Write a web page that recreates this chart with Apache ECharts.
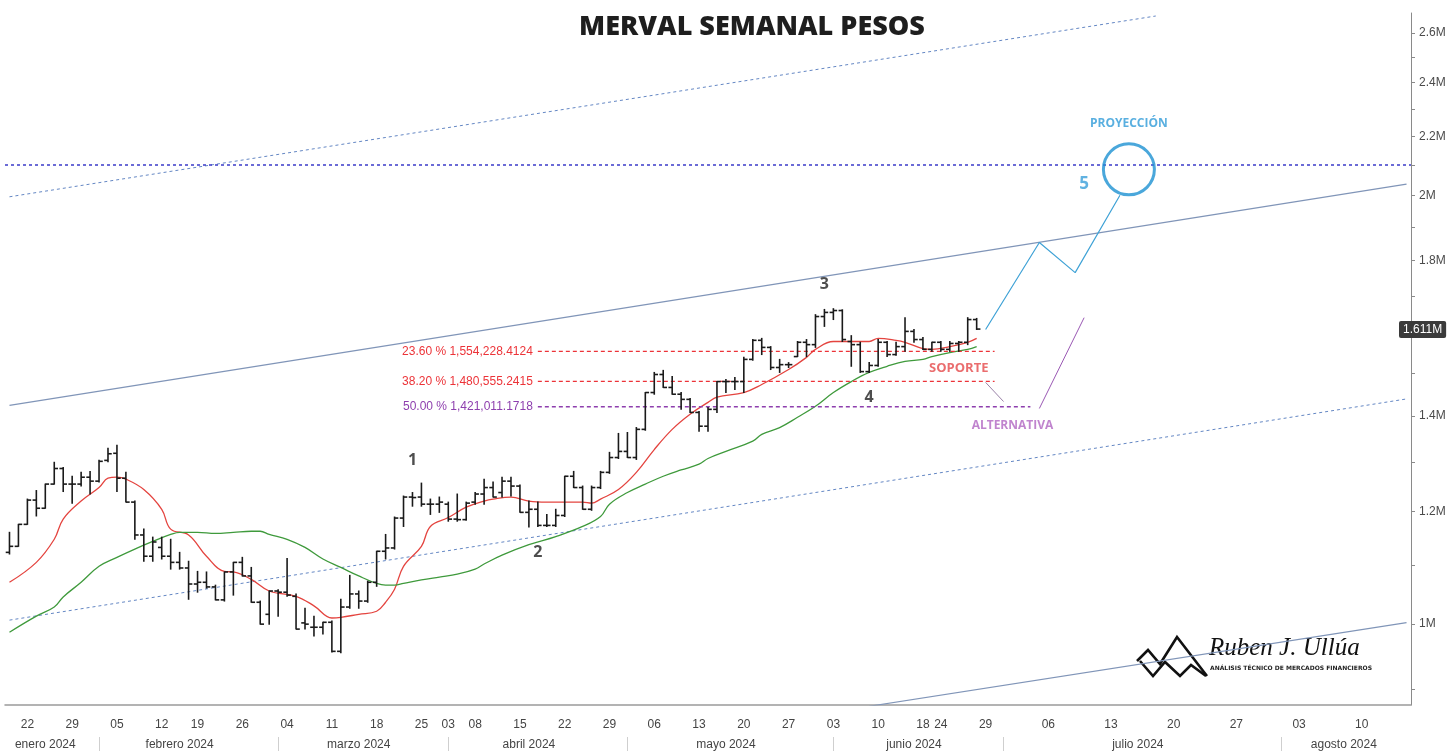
<!DOCTYPE html>
<html>
<head>
<meta charset="utf-8">
<title>MERVAL semanal pesos</title>
<script src="https://cdn.jsdelivr.net/npm/echarts@6/dist/echarts.min.js"></script>
<style>
  html, body { margin: 0; padding: 0; background: #fff; }
  #chart { width: 1450px; height: 751px; }
</style>
</head>
<body>
<div id="chart"></div>
<script>
// barras diarias, en millones de pesos
const open = [1.123,1.134,1.175,1.222,1.206,1.254,1.286,1.254,1.254,1.268,
  1.260,1.303,1.318,1.266,1.218,1.155,1.116,1.132,1.116,1.105,
  1.095,1.067,1.070,1.062,1.040,1.088,1.105,1.081,1.036,1.016,
  1.055,1.053,1.046,1.002,0.995,0.995,1.003,0.957,1.028,1.050,
  1.038,1.070,1.125,1.131,1.187,1.228,1.228,1.214,1.214,1.214,
  1.185,1.184,1.218,1.234,1.247,1.237,1.260,1.250,1.198,1.204,
  1.173,1.173,1.192,1.270,1.247,1.204,1.247,1.278,1.309,1.322,
  1.309,1.370,1.454,1.497,1.466,1.450,1.438,1.408,1.377,1.415,
  1.480,1.480,1.480,1.534,1.582,1.564,1.514,1.521,1.541,1.577,
  1.571,1.644,1.655,1.660,1.579,1.571,1.504,1.519,1.577,1.546,
  1.566,1.605,1.584,1.559,1.577,1.559,1.574,1.577,1.636];
const high = [1.160,1.175,1.224,1.241,1.254,1.299,1.288,1.270,1.278,1.280,
  1.303,1.329,1.335,1.278,1.220,1.166,1.151,1.151,1.147,1.123,
  1.107,1.089,1.088,1.065,1.088,1.105,1.114,1.096,1.038,1.055,
  1.057,1.112,1.050,1.026,1.013,1.003,1.005,1.041,1.082,1.055,
  1.072,1.125,1.156,1.189,1.230,1.237,1.256,1.224,1.228,1.218,
  1.234,1.218,1.237,1.264,1.258,1.268,1.268,1.252,1.220,1.218,
  1.194,1.204,1.270,1.280,1.250,1.250,1.280,1.320,1.361,1.363,
  1.374,1.454,1.502,1.507,1.492,1.454,1.440,1.410,1.419,1.480,
  1.485,1.490,1.539,1.584,1.587,1.566,1.534,1.526,1.579,1.584,
  1.649,1.663,1.665,1.662,1.594,1.577,1.526,1.584,1.579,1.577,
  1.641,1.610,1.589,1.577,1.579,1.579,1.579,1.641,1.639];
const low = [1.120,1.134,1.175,1.191,1.206,1.254,1.239,1.216,1.250,1.234,
  1.258,1.300,1.239,1.218,1.147,1.107,1.107,1.111,1.093,1.093,
  1.041,1.053,1.060,1.040,1.038,1.048,1.081,1.036,1.000,1.000,
  1.013,1.046,0.992,0.992,0.981,0.984,0.956,0.955,1.026,1.026,
  1.036,1.063,1.111,1.129,1.171,1.210,1.210,1.194,1.198,1.181,
  1.181,1.183,1.214,1.214,1.228,1.228,1.230,1.198,1.170,1.171,
  1.171,1.171,1.190,1.247,1.204,1.202,1.245,1.276,1.307,1.309,
  1.305,1.368,1.450,1.466,1.450,1.415,1.408,1.366,1.366,1.408,
  1.454,1.461,1.454,1.532,1.546,1.509,1.502,1.514,1.541,1.541,
  1.564,1.618,1.636,1.579,1.517,1.502,1.502,1.517,1.541,1.544,
  1.554,1.577,1.559,1.554,1.554,1.554,1.554,1.571,1.610];
const close = [1.134,1.175,1.222,1.206,1.254,1.286,1.254,1.254,1.268,1.260,
  1.301,1.317,1.266,1.218,1.155,1.116,1.142,1.116,1.105,1.095,
  1.067,1.070,1.062,1.040,1.088,1.105,1.081,1.036,1.000,1.055,
  1.053,1.048,0.992,1.000,0.995,1.003,0.957,1.028,1.050,1.038,
  1.070,1.125,1.131,1.187,1.228,1.227,1.214,1.214,1.218,1.185,
  1.184,1.216,1.234,1.247,1.228,1.260,1.250,1.198,1.204,1.173,
  1.173,1.192,1.270,1.247,1.204,1.247,1.278,1.309,1.322,1.309,
  1.370,1.454,1.497,1.466,1.450,1.438,1.408,1.377,1.415,1.480,
  1.480,1.480,1.534,1.582,1.564,1.514,1.521,1.521,1.577,1.571,
  1.644,1.655,1.660,1.584,1.571,1.504,1.519,1.577,1.546,1.566,
  1.605,1.584,1.559,1.577,1.559,1.574,1.577,1.636,1.611];

// medias moviles: [indice de barra, valor]
const redMa = [[0,1.070],[2.7,1.105],[4.5,1.147],[6.4,1.185],[8.2,1.220],[10.1,1.247],[11.2,1.266],
  [12.1,1.268],[13.1,1.264],[14.6,1.243],[16.5,1.204],[18.2,1.166],[20.0,1.155],[22.0,1.116],
  [23.8,1.089],[25.0,1.088],[27.2,1.075],[29.4,1.055],[32.1,1.046],[33.9,1.030],[36.1,1.010],
  [37.2,1.011],[38.8,1.016],[40.5,1.021],[41.7,1.036],[42.8,1.058],[43.9,1.098],[45.5,1.134],
  [47.2,1.171],[49.1,1.188],[51.0,1.208],[52.8,1.220],[54.4,1.224],[56.2,1.228],[58.0,1.220],
  [59.9,1.218],[61.7,1.218],[63.6,1.218],[65.1,1.216],[66.2,1.224],[68.1,1.243],[70.0,1.278],
  [71.8,1.326],[73.7,1.370],[75.5,1.404],[77.8,1.431],[79.2,1.443],[81.8,1.454],[84.0,1.473],
  [86.7,1.509],[88.9,1.539],[90.4,1.559],[92.3,1.579],[94.1,1.579],[95.9,1.579],[97.1,1.587],
  [99.0,1.582],[100.4,1.577],[101.9,1.561],[103.4,1.559],[105.2,1.566],[106.8,1.577],[108,1.587]];
const greenMa = [[0,0.987],[2.7,1.013],[4.5,1.028],[6.4,1.045],[8.2,1.070],[10.1,1.098],[12.0,1.114],
  [13.8,1.129],[15.7,1.143],[17.6,1.156],[19.4,1.160],[21.3,1.160],[23.2,1.158],[25.0,1.160],
  [26.6,1.162],[27.6,1.162],[29.4,1.156],[31.3,1.147],[33.2,1.132],[35.0,1.111],[36.9,1.096],
  [38.8,1.081],[40.5,1.068],[42.4,1.065],[43.2,1.065],[44.3,1.068],[46.1,1.074],[48.0,1.079],
  [49.9,1.084],[51.7,1.093],[53.4,1.102],[55.3,1.118],[58.0,1.137],[61.1,1.152],[63.6,1.171],
  [65.5,1.190],[67.3,1.214],[69.2,1.237],[71.1,1.254],[72.9,1.270],[74.8,1.283],[76.7,1.295],
  [78.4,1.307],[80.1,1.322],[82.6,1.344],[84.3,1.359],[85.9,1.374],[88.1,1.397],[90.0,1.422],
  [91.8,1.454],[94.1,1.480],[96.0,1.502],[97.8,1.517],[99.6,1.529],[101.5,1.534],[103.4,1.541],
  [105.2,1.551],[106.8,1.559],[108,1.566]];

// canal, proyeccion y alternativa: [indice, valor]
const upperChannel = [[0, 1.995], [128, 2.672]];
const midChannel = [[0, 1.424], [156, 2.036]];
const lowerChannel = [[0, 1.0065], [156, 1.439]];
const baseChannel = [[96, 0.8757], [156, 1.0026]];
const projection = [[109.2, 1.610], [114.9, 1.853], [118.8, 1.765], [123.5, 2.000]];
const altDown = [[109.2, 1.478], [110.8, 1.433]];
const altUp = [[114.6, 1.417], [120.0, 1.641]];
const target = 2.1;
const targetCircle = [125.1, 2.0856];

const fibStart = 59;
const fibNames = ['23.60 %', '38.20 %', '50.00 %'];
const fibValues = [1554228.4124, 1480555.2415, 1421011.1718];
const fibEnds = [110, 110, 114];

const notes = [
  ['1', 45, 1.303, 'wave'], ['2', 59.3, 1.123, 'wave'], ['3', 90.5, 1.7315, 'wave'],
  ['4', 96.4, 1.4425, 'wave'], ['5', 120.2, 2.0375, 'five'],
  ['PROYECCIÓN', 125.3, 2.2445, 'proj'], ['SOPORTE', 105.6, 1.5116, 'sup'],
  ['ALTERNATIVA', 112.3, 1.3788, 'alt']
];

// fechas
const holidays = ['2024-02-13','2024-03-28','2024-03-29','2024-04-01','2024-04-02',
  '2024-06-17','2024-06-20','2024-06-21'];
const dayLabels = ['2024-01-22','2024-01-29','2024-02-05','2024-02-12','2024-02-19','2024-02-26',
  '2024-03-04','2024-03-11','2024-03-18','2024-03-25','2024-04-03','2024-04-08','2024-04-15',
  '2024-04-22','2024-04-29','2024-05-06','2024-05-13','2024-05-20','2024-05-27','2024-06-03',
  '2024-06-10','2024-06-18','2024-06-24','2024-06-29','2024-07-06','2024-07-13','2024-07-20',
  '2024-07-27','2024-08-03','2024-08-10'];
const monthNames = ['enero','febrero','marzo','abril','mayo','junio','julio','agosto'];
const yTicks = [1, 1.2, 1.4, 1.6, 1.8, 2, 2.2, 2.4, 2.6];
const yMinorTicks = [0.9, 1, 1.1, 1.2, 1.3, 1.4, 1.5, 1.6, 1.7, 1.8, 1.9, 2, 2.1, 2.2, 2.3, 2.4, 2.5, 2.6];

const categories = [];
const lastBar = Date.UTC(2024, 5, 28);
for (let t = Date.UTC(2024, 0, 18); t <= Date.UTC(2024, 7, 15); t += 86400000) {
  const d = new Date(t);
  const iso = d.toISOString().slice(0, 10);
  const wd = d.getUTCDay();
  if (t <= lastBar && (wd === 0 || wd === 6 || holidays.includes(iso))) continue;
  categories.push(iso);
}
const daySet = new Set(dayLabels);
const monthOf = s => +s.slice(5, 7);
const monthStarts = new Set();
const monthMids = new Set();
let first = 0;
for (let i = 1; i <= categories.length; i++) {
  if (i === categories.length || monthOf(categories[i]) !== monthOf(categories[i - 1])) {
    monthMids.add(Math.floor((first + i - 1) / 2));
    if (i < categories.length) monthStarts.add(i);
    first = i;
  }
}

const ohlcData = close.map((c, i) => [i, open[i], c, low[i], high[i]]);
const lastClose = close[close.length - 1];

function renderOhlc(params, api) {
  const x = api.value(0);
  const o = api.coord([x, api.value(1)]);
  const c = api.coord([x, api.value(2)]);
  const l = api.coord([x, api.value(3)]);
  const h = api.coord([x, api.value(4)]);
  const half = api.size([1, 1], [x, 1])[0] * 0.42;
  const style = { stroke: '#1a1a1a', lineWidth: 1.6 };
  return {
    type: 'group',
    children: [
      { type: 'line', shape: { x1: h[0], y1: h[1] - 0.5, x2: l[0], y2: l[1] + 0.5 }, style },
      { type: 'line', shape: { x1: o[0] - half, y1: o[1], x2: o[0], y2: o[1] }, style },
      { type: 'line', shape: { x1: c[0], y1: c[1], x2: c[0] + half, y2: c[1] }, style }
    ]
  };
}

const noteStyles = {
  wave: { color: '#222', fontSize: 16, fontWeight: 'bold' },
  five: { color: '#3a9fda', fontSize: 17, fontWeight: 'bold' },
  proj: { color: '#2f9bd8', fontSize: 12, fontWeight: 'bold' },
  sup: { color: '#e5484a', fontSize: 13, fontWeight: 'bold' },
  alt: { color: '#b065c2', fontSize: 12, fontWeight: 'bold' }
};

const hiddenLine = { color: 'rgba(0,0,0,0)', width: 0 };
const fibColors = ['#ec3338', '#ec3338', '#8e3fae'];
const fibSeries = fibValues.map((v, k) => ({
  name: 'Fibonacci ' + fibNames[k],
  type: 'line',
  data: [[fibStart, v / 1e6], [fibEnds[k], v / 1e6]],
  symbol: 'none',
  silent: true,
  lineStyle: { color: fibColors[k], type: [4, 3], width: 1.3 },
  markLine: {
    symbol: ['none', 'none'], silent: true, animation: false,
    lineStyle: hiddenLine,
    label: {
      show: true, position: 'start', distance: 5, fontSize: 12, color: fibColors[k],
      fontFamily: 'Liberation Sans, Arial, sans-serif',
      formatter: fibNames[k] + ' ' + v.toLocaleString('en-US', { minimumFractionDigits: 4 })
    },
    data: [[{ coord: [fibStart, v / 1e6] }, { coord: [fibEnds[k], v / 1e6] }]]
  }
}));

const chart = echarts.init(document.getElementById('chart'));

chart.setOption({
  animation: false,
  backgroundColor: '#fff',
  textStyle: { fontFamily: 'Liberation Sans, Arial, sans-serif' },
  grid: { left: 5, right: 39, top: 13, bottom: 45 },
  xAxis: [
    {
      type: 'category',
      data: categories,
      axisLine: { lineStyle: { color: '#9a9a9a', width: 1.5 } },
      axisTick: { interval: 0, length: 5, lineStyle: { color: '#cdcdcd' } },
      axisLabel: {
        interval: (i, v) => daySet.has(v),
        formatter: v => v.slice(8),
        color: '#444', fontSize: 12, margin: 14
      },
      splitLine: { show: false }
    },
    {
      type: 'category',
      data: categories,
      position: 'bottom',
      offset: 32,
      axisLine: { show: false },
      axisTick: {
        show: true, alignWithLabel: true, length: 14,
        interval: i => monthStarts.has(i),
        lineStyle: { color: '#cfcfcf' }
      },
      axisLabel: {
        interval: i => monthMids.has(i),
        formatter: v => monthNames[monthOf(v) - 1] + ' ' + v.slice(0, 4),
        color: '#444', fontSize: 12, margin: 2
      },
      splitLine: { show: false }
    }
  ],
  yAxis: {
    type: 'log',
    logBase: 10,
    position: 'right',
    min: 0.8775,
    max: 2.685,
    axisLine: { show: true, lineStyle: { color: '#8a8a8a' } },
    axisTick: { show: true, customValues: yMinorTicks, length: 4, lineStyle: { color: '#8a8a8a' } },
    axisLabel: {
      customValues: yTicks,
      formatter: v => (+(+v).toFixed(2)) + 'M',
      color: '#4a4a4a', fontSize: 12, margin: 8
    },
    splitLine: { show: false }
  },
  graphic: [
    {
      type: 'text', x: 752, y: 27,
      style: {
        text: 'MERVAL SEMANAL PESOS', font: '800 27px "Open Sans"', fill: '#1e1e1e',
        align: 'center', verticalAlign: 'middle', textAlign: 'center', textVerticalAlign: 'middle'
      }
    },
    {
      type: 'polyline',
      shape: { points: [[1137, 661], [1148, 650], [1160, 664], [1177, 637], [1207, 676]] },
      style: { stroke: '#111', lineWidth: 2.6, fill: null }
    },
    {
      type: 'polyline',
      shape: { points: [[1140, 661], [1153, 676], [1165, 662], [1180, 676], [1191, 665], [1206, 676]] },
      style: { stroke: '#111', lineWidth: 2.6, fill: null }
    },
    {
      type: 'text', x: 1209, y: 648,
      style: {
        text: 'Ruben J. Ullúa', font: 'italic 25px "Liberation Serif"', fill: '#111',
        align: 'left', verticalAlign: 'middle', textAlign: 'left', textVerticalAlign: 'middle'
      }
    },
    {
      type: 'text', x: 1210, y: 668,
      style: {
        text: 'ANÁLISIS TÉCNICO DE MERCADOS FINANCIEROS', font: 'bold 6px "DejaVu Sans"', fill: '#222',
        align: 'left', verticalAlign: 'middle', textAlign: 'left', textVerticalAlign: 'middle'
      }
    }
  ],
  series: [
    {
      name: 'Canal superior', type: 'line', data: upperChannel, symbol: 'none', silent: true,
      lineStyle: { color: '#6487c4', width: 1, type: [3, 3] }
    },
    {
      name: 'Canal', type: 'line', data: midChannel, symbol: 'none', silent: true,
      lineStyle: { color: '#8095b8', width: 1.2 }
    },
    {
      name: 'Canal inferior', type: 'line', data: lowerChannel, symbol: 'none', silent: true,
      lineStyle: { color: '#6487c4', width: 1, type: [3, 3] }
    },
    {
      name: 'Base', type: 'line', data: baseChannel, symbol: 'none', silent: true,
      lineStyle: { color: '#8095b8', width: 1.2 }
    },
    {
      name: 'Media corta', type: 'line', data: redMa, smooth: 0.4, symbol: 'none', silent: true,
      lineStyle: { color: '#e4443f', width: 1.3 }
    },
    {
      name: 'Media larga', type: 'line', data: greenMa, smooth: 0.4, symbol: 'none', silent: true,
      lineStyle: { color: '#3f9a3c', width: 1.3 }
    },
    {
      name: 'MERVAL', type: 'custom', renderItem: renderOhlc, data: ohlcData, clip: true, z: 5,
      encode: { x: 0, y: [1, 2, 3, 4] }
    },
    {
      name: 'Proyección', type: 'line', data: projection, symbol: 'none', silent: true,
      lineStyle: { color: '#3fa2d6', width: 1.2 },
      markLine: {
        symbol: ['none', 'none'], silent: true, animation: false,
        data: [
          { yAxis: target, label: { show: false }, lineStyle: { color: '#3b3bc9', type: [3, 3], width: 1.5 } }
        ]
      }
    },
    {
      name: 'Último', type: 'line', data: [], symbol: 'none', silent: true,
      markLine: {
        symbol: ['none', 'none'], silent: true, animation: false,
        lineStyle: hiddenLine,
        label: {
          show: true, position: 'end', distance: -12, formatter: lastClose.toFixed(3) + 'M',
          color: '#fff', backgroundColor: '#3b3b3b', padding: [3, 4, 2, 4], fontSize: 12, borderRadius: 2
        },
        data: [{ yAxis: lastClose }]
      }
    }
  ].concat(fibSeries, [
    {
      name: 'Alternativa baja', type: 'line', data: altDown, symbol: 'none', silent: true,
      lineStyle: { color: '#9a82a8', width: 1 }
    },
    {
      name: 'Alternativa', type: 'line', data: altUp, symbol: 'none', silent: true,
      lineStyle: { color: '#9a58b4', width: 1 }
    },
    {
      name: 'Objetivo', type: 'scatter', silent: true, z: 6,
      data: [targetCircle], symbol: 'circle', symbolSize: 51,
      itemStyle: { color: 'rgba(0,0,0,0)', borderColor: '#1d91d2', borderWidth: 3 }
    },
    {
      name: 'Textos', type: 'scatter', silent: true, z: 7, symbolSize: 0,
      data: notes.map(n => ({
        value: [n[1], n[2]],
        label: Object.assign({ show: true, position: 'inside', formatter: n[0], fontFamily: '"Open Sans", sans-serif' }, noteStyles[n[3]])
      }))
    }
  ])
});
</script>
</body>
</html>
